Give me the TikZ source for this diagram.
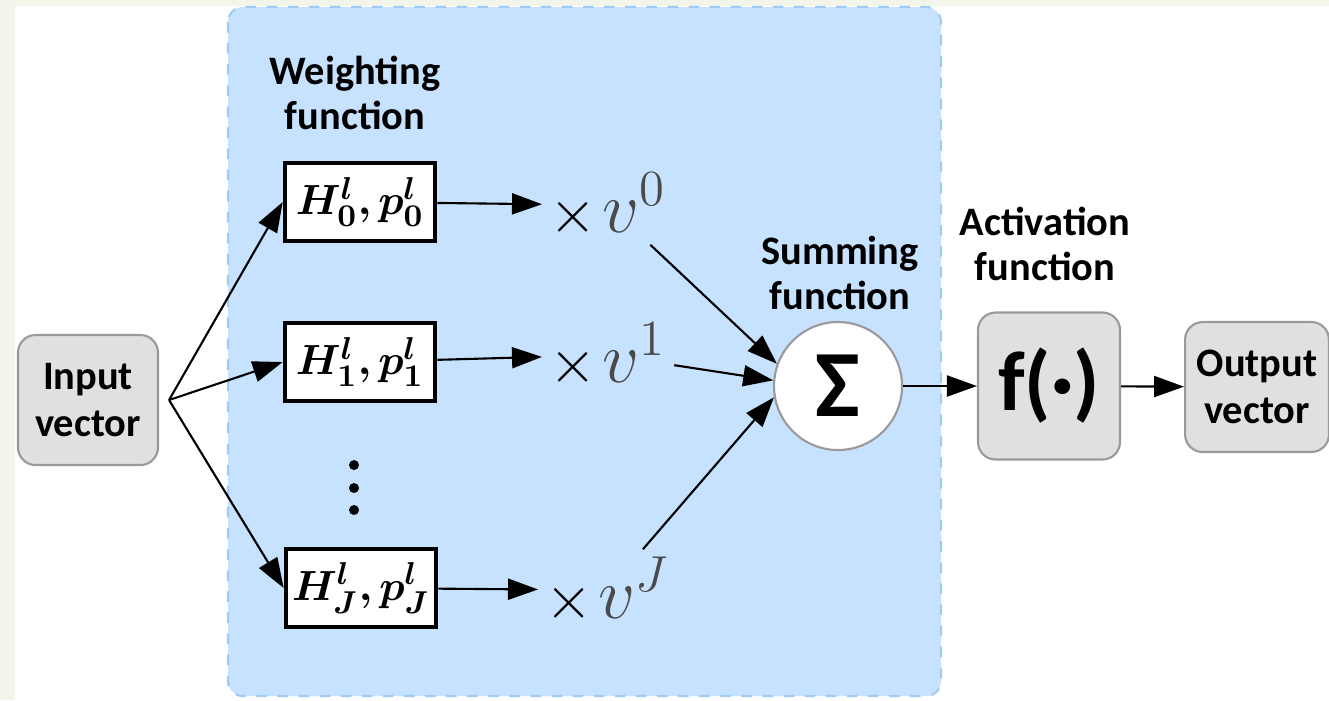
\documentclass[tikz,border=0pt]{standalone}
\usepackage{fontspec}
\setmainfont{Carlito}
\usepackage{amsmath}
\usepackage{bm}
\usepackage{tikz}
\usetikzlibrary{positioning, shapes, arrows.meta}
\definecolor{panelblue}{HTML}{C6E2FE}
\definecolor{paneledge}{HTML}{9FCBF4}
\definecolor{boxgray}{HTML}{E0E0E0}
\definecolor{edgegray}{HTML}{9A9A9A}
\definecolor{cream}{HTML}{F3F4EA}
\definecolor{vgray}{HTML}{4A4A4A}
\tikzset{>={Triangle[length=3mm,width=2.1mm]}}
\tikzset{
    vector/.style = {rectangle, rounded corners=5pt, draw=edgegray, fill=boxgray, line width=0.6pt,
                        minimum width=1.4cm, minimum height=1.3cm, align=center,
                        font=\bfseries\fontsize{11.5}{13.5}\selectfont},
    weight/.style = {rectangle, draw, fill=white, line width=1.3pt, minimum width=1.5cm,
                        minimum height=0.78cm, inner sep=1pt, font=\fontsize{12.5}{15}\selectfont},
    summer/.style = {circle, draw=edgegray, fill=white, line width=0.6pt, minimum size=1.28cm, inner sep=0pt},
    caption/.style = {align=center, font=\bfseries\fontsize{11.5}{13}\selectfont},
    product/.style = {inner sep=2pt, anchor=west},
    link/.style = {->, line width=0.6pt},
    panel/.style = {draw=paneledge, fill=panelblue, dashed, line width=0.6pt, rounded corners=0.15cm}
}
\newcommand{\timesv}[1]{{\fontsize{17}{19}\selectfont$\times$}\,{\color{vgray}\fontsize{22}{24}\selectfont$v^{#1}$}}

\begin{document}
\begin{tikzpicture}[scale=1]
		\useasboundingbox (0,0) rectangle (13.29,-7.00);
		\fill [cream] (0,0) rectangle (13.29,-7.00);
		\fill [white] (0.15,-0.06) rectangle (13.29,-7.00);
		\draw [panel] (2.28,-0.07) rectangle (9.41,-6.96);
		% input side
		\node (in) [vector] at (0.88,-4.00) {Input\\vector};
		\coordinate (fan) at ([xshift=1mm]in.east);
		% weighting boxes
		\node (wlabel) [caption] at (3.55,-0.93) {Weighting\\function};
		\node (h0) [weight] at (3.60,-2.02) {$\bm{H^{l}_{0}, p^{l}_{0}}$};
		\node (h1) [weight] at (3.60,-3.62) {$\bm{H^{l}_{1}, p^{l}_{1}}$};
		\node (hJ) [weight] at (3.61,-5.88) {$\bm{H^{l}_{J}, p^{l}_{J}}$};
		\foreach \y in {4.65,4.88,5.10} \fill (3.54,-\y) circle (0.05);
		\node (v0) [product] at (5.42,-2.05) {\timesv{0}};
		\node (v1) [product] at (5.42,-3.55) {\timesv{1}};
		\node (vJ) [product] at (5.38,-5.90) {\timesv{J}};
		% summing and activation
		\node (slabel) [caption] at (8.40,-2.73) {Summing\\function};
		\node (sum) [summer] at (8.38,-3.86) {\bfseries\fontsize{27}{30}\selectfont Σ};
		\node (alabel) [caption] at (10.45,-2.44) {Activation\\function};
		\node (act) [vector, minimum width=1.42cm, minimum height=1.47cm,
			font=\bfseries\fontsize{24}{26}\selectfont] at (10.49,-3.86) {f(·)};
		\node (out) [vector] at (12.57,-3.87) {Output\\vector};
		% connectors
		\draw [link] (fan) to (h0.west);
		\draw [link] (fan) to (h1.west);
		\draw [link] (fan) to (hJ.west);
		\draw [link] (h0) to (v0);
		\draw [link] (h1) to (v1);
		\draw [link] (hJ) to (vJ);
		\draw [link] (v0) to (sum.160);
		\draw [link] (v1) to (sum.175);
		\draw [link] (vJ) to (sum.190);
		\draw [link] (sum) to (act);
		\draw [link] (act) to (out);
	\end{tikzpicture}
\end{document}
